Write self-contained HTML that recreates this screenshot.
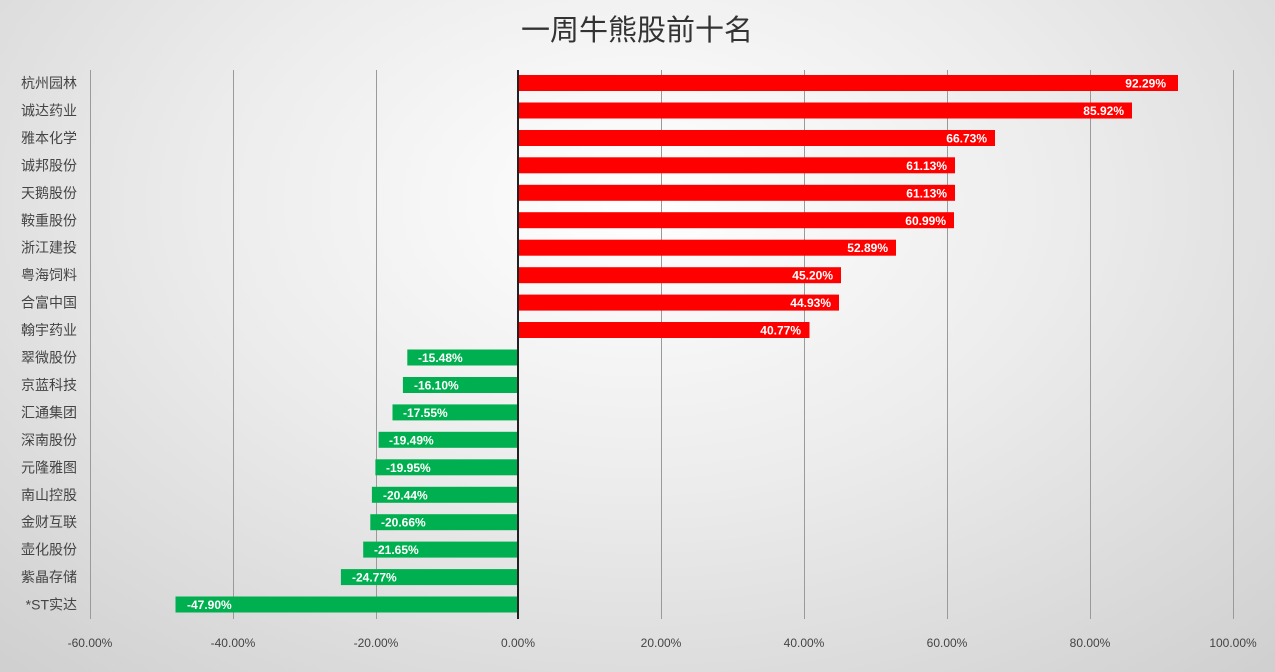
<!DOCTYPE html>
<html><head><meta charset="utf-8"><style>
html,body{margin:0;padding:0;width:1275px;height:672px;overflow:hidden}
body{background:radial-gradient(ellipse 75% 95% at 50% 30%,#ffffff 0%,#ececec 45%,#cfcfcf 100%)}
text{font-family:"Liberation Sans","Noto Sans CJK SC",sans-serif}
</style></head><body>
<svg width="1275" height="672" xmlns="http://www.w3.org/2000/svg">
<text x="637" y="40" text-anchor="middle" font-size="29" fill="#333">一周牛熊股前十名</text>
<g stroke="#9a9a9a" stroke-width="1">
<line x1="90.5" y1="70" x2="90.5" y2="619"/><line x1="233.5" y1="70" x2="233.5" y2="619"/><line x1="376.5" y1="70" x2="376.5" y2="619"/>
<line x1="661.5" y1="70" x2="661.5" y2="619"/><line x1="804.5" y1="70" x2="804.5" y2="619"/><line x1="947.5" y1="70" x2="947.5" y2="619"/>
<line x1="1090.5" y1="70" x2="1090.5" y2="619"/><line x1="1233.5" y1="70" x2="1233.5" y2="619"/>
</g>
<g font-size="12" fill="#444" text-anchor="middle">
<text x="90" y="647">-60.00%</text><text x="233" y="647">-40.00%</text><text x="376" y="647">-20.00%</text><text x="518" y="647">0.00%</text>
<text x="661" y="647">20.00%</text><text x="804" y="647">40.00%</text><text x="947" y="647">60.00%</text><text x="1090" y="647">80.00%</text><text x="1233" y="647">100.00%</text>
</g>
<g fill="#ff0000">
<rect x="518" y="75" width="660" height="16"/><rect x="518" y="102.5" width="614" height="16"/><rect x="518" y="130" width="477" height="16"/>
<rect x="518" y="157.3" width="437" height="16"/><rect x="518" y="184.8" width="437" height="16"/><rect x="518" y="212.2" width="436" height="16"/>
<rect x="518" y="239.7" width="378" height="16"/><rect x="518" y="267.2" width="323" height="16"/><rect x="518" y="294.6" width="321" height="16"/>
<rect x="518" y="322" width="291.5" height="16"/>
</g>
<g fill="#00b050">
<rect x="407.3" y="349.5" width="110.7" height="16"/><rect x="402.9" y="377" width="115.1" height="16"/><rect x="392.5" y="404.4" width="125.5" height="16"/>
<rect x="378.6" y="431.8" width="139.4" height="16"/><rect x="375.4" y="459.3" width="142.6" height="16"/><rect x="371.9" y="486.8" width="146.1" height="16"/>
<rect x="370.3" y="514.2" width="147.7" height="16"/><rect x="363.2" y="541.6" width="154.8" height="16"/><rect x="340.9" y="569.1" width="177.1" height="16"/>
<rect x="175.5" y="596.5" width="342.5" height="16"/>
</g>
<line x1="518" y1="70" x2="518" y2="619" stroke="#222" stroke-width="2"/>
<g font-size="12" font-weight="bold" fill="#fff" text-anchor="end">
<text x="1166" y="87.5">92.29%</text><text x="1124" y="115">85.92%</text><text x="987" y="142.5">66.73%</text>
<text x="947" y="170">61.13%</text><text x="947" y="197.3">61.13%</text><text x="946" y="224.8">60.99%</text>
<text x="888" y="252.2">52.89%</text><text x="833" y="279.7">45.20%</text><text x="831" y="307.1">44.93%</text><text x="801" y="334.5">40.77%</text>
</g>
<g font-size="12" font-weight="bold" fill="#fff">
<text x="418" y="362">-15.48%</text><text x="414" y="389.5">-16.10%</text><text x="403" y="416.9">-17.55%</text>
<text x="389" y="444.3">-19.49%</text><text x="386" y="471.8">-19.95%</text><text x="383" y="499.3">-20.44%</text>
<text x="381" y="526.7">-20.66%</text><text x="374" y="554.1">-21.65%</text><text x="352" y="581.6">-24.77%</text><text x="187" y="609">-47.90%</text>
</g>
<g font-size="14" fill="#444" text-anchor="end">
<text x="77" y="88">杭州园林</text><text x="77" y="115.5">诚达药业</text><text x="77" y="143">雅本化学</text>
<text x="77" y="170.4">诚邦股份</text><text x="77" y="197.8">天鹅股份</text><text x="77" y="225.3">鞍重股份</text>
<text x="77" y="252.7">浙江建投</text><text x="77" y="280.2">粤海饲料</text><text x="77" y="307.6">合富中国</text>
<text x="77" y="335">翰宇药业</text><text x="77" y="362.5">翠微股份</text><text x="77" y="390">京蓝科技</text>
<text x="77" y="417.4">汇通集团</text><text x="77" y="444.9">深南股份</text><text x="77" y="472.3">元隆雅图</text>
<text x="77" y="499.8">南山控股</text><text x="77" y="527.2">金财互联</text><text x="77" y="554.7">壶化股份</text>
<text x="77" y="582.1">紫晶存储</text><text x="77" y="609.6">*ST实达</text>
</g>
</svg>
</body></html>
